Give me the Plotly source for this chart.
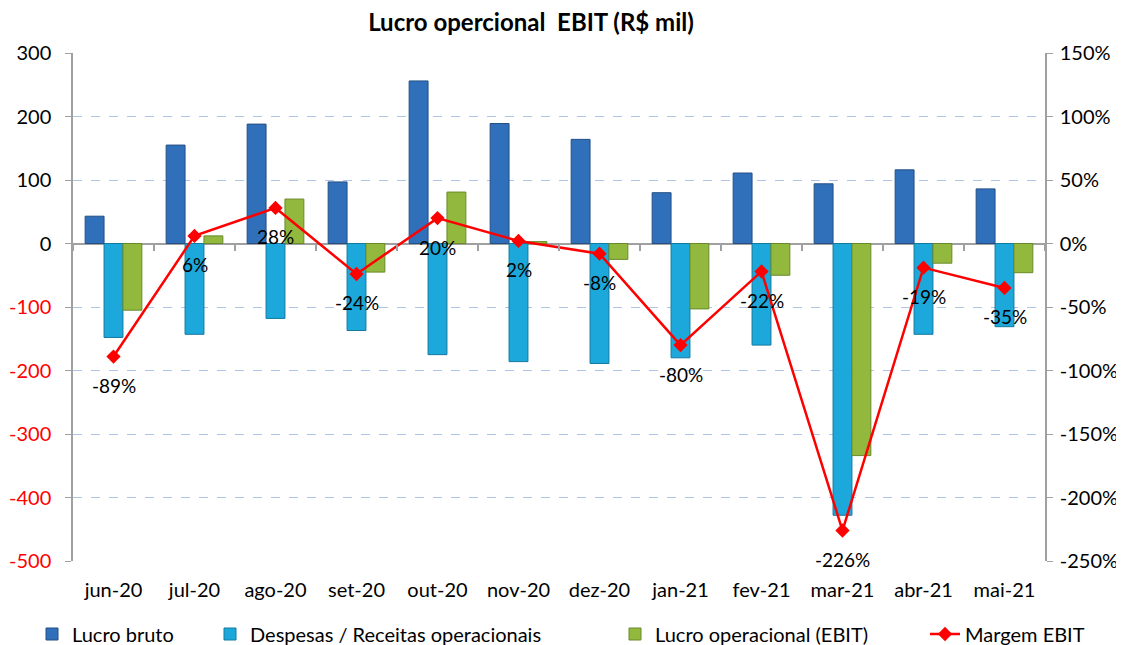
import plotly.graph_objects as go

meses = ["jun-20", "jul-20", "ago-20", "set-20", "out-20", "nov-20",
         "dez-20", "jan-21", "fev-21", "mar-21", "abr-21", "mai-21"]
lucro_bruto = [43, 155, 188, 97, 256, 189, 164, 80, 111, 94, 116, 86]
despesas = [-148, -143, -118, -137, -175, -186, -189, -180, -160, -428, -143, -131]
ebit = [-105, 12, 70, -45, 81, 3, -25, -103, -50, -334, -31, -46]
margem = [-89, 6, 28, -24, 20, 2, -8, -80, -22, -226, -19, -35]

left_ticks = [300, 200, 100, 0, -100, -200, -300, -400, -500]
right_ticks = [150, 100, 50, 0, -50, -100, -150, -200, -250]

FONT = "Lato"
# page body has an 8px margin, so the figure is drawn 8px smaller
W, H = 1116, 637

fig = go.Figure()
fig.add_trace(go.Bar(x=meses, y=lucro_bruto, name="Lucro bruto", legend="legend",
                     marker=dict(color="#3070BA", line=dict(color="#234F85", width=1))))
fig.add_trace(go.Bar(x=meses, y=despesas, name="Despesas / Receitas operacionais",
                     legend="legend2",
                     marker=dict(color="#1CA8DA", line=dict(color="#137AA0", width=1))))
fig.add_trace(go.Bar(x=meses, y=ebit, name="Lucro operacional (EBIT)", legend="legend3",
                     marker=dict(color="#92B83E", line=dict(color="#6A8A2A", width=1))))
fig.add_trace(go.Scatter(x=meses, y=margem, name="Margem EBIT", yaxis="y2",
                         legend="legend4", mode="lines+markers",
                         line=dict(color="#FF0000", width=2.5),
                         marker=dict(symbol="diamond", size=11, color="#FF0000")))

# invisible trace to carry the category tick marks on the zero line
fig.add_trace(go.Scatter(x=meses, y=[0] * len(meses), xaxis="x2", yaxis="y",
                         mode="markers", marker=dict(opacity=0), showlegend=False,
                         hoverinfo="skip"))

for m, v in zip(meses, margem):
    fig.add_annotation(x=m, y=v, yref="y2", text=f"{v}%", showarrow=False,
                       yshift=-29, font=dict(size=19, color="#000000", family=FONT))

left_text = [f"<span style='color:#FF0000'>{v}</span>" if v < 0 else str(v) for v in left_ticks]
right_text = [f"{v}%" for v in right_ticks]


def leg(x_px):
    return dict(orientation="h", x=x_px / W, xanchor="left", xref="container",
                y=(H - 626) / H, yanchor="middle", yref="container",
                font=dict(size=20), bgcolor="rgba(0,0,0,0)")


fig.update_layout(
    width=W, height=H,
    margin=dict(l=65, r=79, t=45, b=84, autoexpand=False),
    plot_bgcolor="white", paper_bgcolor="white",
    font=dict(family=FONT, size=20, color="#000000"),
    title=dict(text="<b>Lucro opercional  EBIT (R$ mil)</b>", x=523 / W, xanchor="center",
               xref="container", y=(H - 15) / H, yanchor="middle",
               font=dict(size=24, family=FONT)),
    barmode="group", bargap=0.3, bargroupgap=0,
    xaxis=dict(showgrid=False, showline=False, ticks="", tickfont=dict(size=20),
               anchor="y", range=[-0.5, 11.5], ticklabelstandoff=15),
    xaxis2=dict(overlaying="x", anchor="free", position=0.625, type="category",
                categoryorder="array", categoryarray=meses, range=[-0.5, 11.5],
                showticklabels=False, showgrid=False, showline=False,
                ticks="outside", tickson="boundaries", ticklen=6,
                tickcolor="#A0A0A0", tickwidth=1.5),
    yaxis=dict(range=[-500, 300], tickvals=left_ticks, ticktext=left_text,
               showgrid=True, gridcolor="#AFC4EA", griddash="dash", gridwidth=1,
               zeroline=True, zerolinecolor="#A0A0A0", zerolinewidth=1.5,
               showline=True, linecolor="#A0A0A0", linewidth=1.5,
               ticks="outside", tickcolor="#A0A0A0", ticklen=6, ticklabelstandoff=10),
    yaxis2=dict(range=[-250, 150], tickvals=right_ticks, ticktext=right_text,
                overlaying="y", side="right", showgrid=False, zeroline=False,
                showline=True, linecolor="#A0A0A0", linewidth=1.5,
                ticks="outside", tickcolor="#A0A0A0", ticklen=6, ticklabelstandoff=3),
    legend=leg(24),
    legend2=leg(202),
    legend3=leg(607),
    legend4=leg(917),
)

fig.write_html("out.html")
